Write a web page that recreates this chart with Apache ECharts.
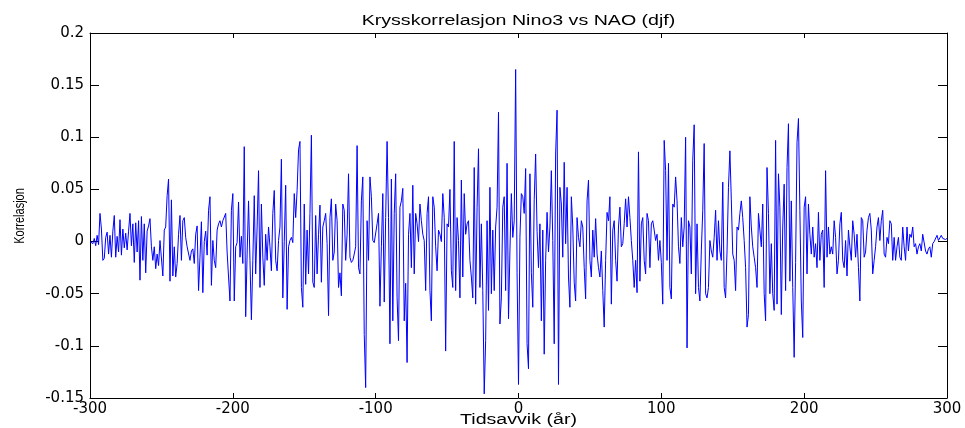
<!DOCTYPE html>
<html>
<head>
<meta charset="utf-8">
<script src="https://cdn.jsdelivr.net/npm/echarts@6/dist/echarts.min.js"></script>
<style>
html,body{margin:0;padding:0;background:#fff;}
#chart{width:965px;height:428px;}
</style>
</head>
<body>
<div id="chart"></div>
<script>
// Lags run from -300 to 300 in steps of 1 (years)
const lagStart = -300;
const lagStep = 1;

// Cross-correlation values, split in segments of lag
const corrA = [ // -300 .. -226
 0.000, 0.001,-0.002, 0.003,-0.004, 0.006,-0.003, 0.027, 0.012,-0.018,
-0.016, 0.004, 0.009,-0.012, 0.006,-0.015, 0.010, 0.025,-0.015, 0.005,
-0.010, 0.021,-0.013, 0.012,-0.006, 0.008,-0.008, 0.010, 0.027,-0.004,
 0.017,-0.020, 0.018,-0.010, 0.020,-0.037, 0.024,-0.018, 0.017,-0.030,
 0.010, 0.015, 0.022,-0.005,-0.018,-0.005,-0.026,-0.012,-0.023, 0.001,
 0.002,-0.033, 0.011, 0.014, 0.044, 0.060,-0.038, 0.040,-0.033,-0.005,
-0.034,-0.021, 0.007, 0.025,-0.018, 0.020, 0.023, 0.004,-0.005,-0.006,
-0.018,-0.009,-0.007,-0.021, 0.007
];
const corrB = [ // -225 .. -152
 0.015,-0.047,-0.015, 0.019,-0.049, 0.000, 0.010,-0.013, 0.030, 0.043,
-0.042, 0.001,-0.018,-0.025, 0.011, 0.017, 0.020, 0.014, 0.020, 0.019,
 0.027,-0.010,-0.034,-0.057, 0.030, 0.046,-0.057,-0.005,-0.001, 0.038,
-0.015, 0.005,-0.021, 0.091,-0.072,-0.012, 0.039,-0.018,-0.075,-0.018,
 0.044,-0.031, 0.014, 0.068,-0.044, 0.036,-0.015,-0.042, 0.007,-0.018,
 0.014,-0.005,-0.028, 0.027, 0.049,-0.018,-0.028, 0.001, 0.014, 0.079,
-0.054, 0.000, 0.054,-0.065,-0.005, 0.001, 0.004,-0.001, 0.046, 0.023,
 0.049, 0.088, 0.096,-0.044
];
const corrC = [ // -151 .. -76
-0.063, 0.036,-0.041, 0.011,-0.031, 0.027, 0.102,-0.039,-0.044, 0.025,
-0.031, 0.007, 0.035,-0.039, 0.014, 0.020, 0.027,-0.002,-0.071, 0.023,
 0.041,-0.018,-0.010, 0.036, 0.020,-0.044,-0.030,-0.052, 0.036, 0.030,
-0.018, 0.007, 0.065,-0.015,-0.020,-0.018,-0.012,-0.005, 0.092,-0.025,
-0.031, 0.039, 0.062,-0.089,-0.140, 0.020,-0.018, 0.062, 0.043, 0.001,
-0.001,-0.002, 0.017, 0.027,-0.062,-0.005, 0.046,-0.058, 0.023, 0.096,
 0.023,-0.098, 0.060,-0.076, 0.027, 0.065,-0.054,-0.095, 0.033, 0.039,
 0.051,-0.076,-0.040,-0.116, 0.007, 0.027
];
const corrD = [ // -75 .. -1
-0.025, 0.054,-0.031, 0.027, 0.017, 0.000, 0.036, 0.020, 0.007, 0.001,
-0.047, 0.027, 0.043,-0.047,-0.076, 0.043, 0.033,-0.005,-0.028, 0.011,
 0.007, 0.000, 0.046, 0.023,-0.105, 0.017, 0.014, 0.050,-0.028,-0.044,
 0.096,-0.047, 0.023, 0.001,-0.054, 0.059,-0.034, 0.046, 0.007, 0.017,
 0.020,-0.018,-0.034,-0.054, 0.071,-0.060, 0.033, 0.089,-0.044, 0.017,
-0.047,-0.146,-0.095, 0.020,-0.066, 0.052,-0.050, 0.011,-0.047, 0.014,
 0.033, 0.124,-0.079,-0.054, 0.033, 0.043,-0.047, 0.075,-0.074,-0.009,
 0.046, 0.004, 0.020, 0.165,-0.030
];
const corrE = [ // 0 .. 73
-0.137, 0.004, 0.046, 0.043, 0.027, 0.070,-0.098,-0.122, 0.065,-0.030,
-0.063, 0.040, 0.084, 0.010,-0.025, 0.017,-0.076, 0.011,-0.108,-0.018,
 0.028,-0.010, 0.014, 0.068, 0.001,-0.098, 0.084, 0.126,-0.137, 0.052,
 0.036,-0.015, 0.076,-0.002, 0.052,-0.034,-0.063, 0.043, 0.014,-0.039,
-0.057, 0.023, 0.004,-0.005, 0.020, 0.014,-0.025,-0.055, 0.039, 0.059,
-0.018,-0.034, 0.011,-0.015, 0.022,-0.012,-0.025,-0.034,-0.009,-0.047,
-0.082,-0.018, 0.028, 0.020, 0.043,-0.060, 0.011, 0.020,-0.018,-0.038,
 0.014, 0.033,-0.005,-0.002
];
const corrF = [ // 74 .. 148
 0.017, 0.041, 0.014, 0.043, 0.023, 0.001,-0.018,-0.044,-0.018,-0.049,
 0.086,-0.038, 0.017, 0.023,-0.018,-0.031, 0.027, 0.020,-0.025, 0.017,
 0.020, 0.011, 0.001, 0.007,-0.018, 0.001,-0.020,-0.060, 0.097, 0.068,
-0.018, 0.075,-0.044,-0.055, 0.036, 0.033, 0.062, 0.039,-0.005,-0.021,
 0.023,-0.005, 0.014, 0.100,-0.102, 0.020, 0.014,-0.031, 0.078, 0.112,
-0.050, 0.017,-0.044,-0.057,-0.009, 0.030, 0.094,-0.050,-0.054,-0.044,
 0.001,-0.009,-0.015, 0.004, 0.030,-0.018, 0.020,-0.009,-0.018, 0.057,
-0.044,-0.054,-0.009, 0.052, 0.087
];
const corrG = [ // 149 .. 223
 0.040,-0.012,-0.018,-0.047, 0.014, 0.011, 0.027, 0.039, 0.023, 0.001,
-0.025,-0.082,-0.070, 0.043, 0.014,-0.005,-0.015,-0.025,-0.044, 0.027,
 0.011,-0.005, 0.036,-0.050,-0.076, 0.071, 0.027,-0.050,-0.002,-0.050,
-0.066, 0.097,-0.060, 0.065, 0.033,-0.070, 0.014, 0.055,-0.047, 0.071,
 0.113,-0.038, 0.039,-0.044,-0.111,-0.020, 0.095, 0.118, 0.030,-0.057,
-0.092, 0.033, 0.043,-0.031, 0.036, 0.007,-0.012, 0.014,-0.015,-0.002,
-0.025, 0.028,-0.018, 0.007, 0.011,-0.044, 0.068,-0.015, 0.014,-0.012,
-0.005,-0.012, 0.020, 0.004,-0.031
];
const corrH = [ // 224 .. 300
-0.018, 0.017, 0.028,-0.018,-0.025, 0.001,-0.033, 0.011,-0.005,-0.018,
 0.020, 0.007,-0.015, 0.007,-0.025,-0.057, 0.023, 0.020,-0.015,-0.010,
 0.011, 0.023, 0.027, 0.011,-0.031,-0.018,-0.005, 0.014, 0.023, 0.001,
 0.020, 0.030,-0.012,-0.015, 0.004,-0.002, 0.020, 0.017,-0.018, 0.004,
-0.018,-0.005, 0.004,-0.015,-0.018, 0.014,-0.005,-0.018, 0.014,-0.009,
 0.007, 0.004, 0.014,-0.005,-0.002,-0.012,-0.005,-0.002,-0.009, 0.007,
 0.007,-0.009,-0.012,-0.007,-0.005,-0.015,-0.002, 0.000, 0.001, 0.006,
 0.001, 0.001, 0.006, 0.003, 0.004, 0.002, 0.003
];

const xTicks = [-300, -200, -100, 0, 100, 200, 300];
const yTicks = [-0.15, -0.1, -0.05, 0, 0.05, 0.1, 0.15, 0.2];
const titleText = 'Krysskorrelasjon Nino3 vs NAO (djf)';
const xName = 'Tidsavvik (år)';
const yName = 'Korrelasjon';

const corr = [].concat(corrA, corrB, corrC, corrD, corrE, corrF, corrG, corrH);
const seriesData = corr.map((v, i) => [lagStart + i * lagStep, v]);

const chart = echarts.init(document.getElementById('chart'), null, {renderer: 'canvas'});
const labelFont = '"DejaVu Sans", "Liberation Sans", sans-serif';
const textFont = '"Liberation Sans", Arial, sans-serif';
const axisColor = '#000000';

const baseX = {
  type: 'value', min: xTicks[0], max: xTicks[xTicks.length - 1], interval: 100,
  splitLine: {show: false},
  axisLine: {show: true, onZero: false, lineStyle: {color: axisColor, width: 1}},
  axisTick: {show: true, inside: true, length: 5, lineStyle: {color: axisColor}}
};
const baseY = {
  type: 'value', min: yTicks[0], max: yTicks[yTicks.length - 1], interval: 0.05,
  splitLine: {show: false},
  axisLine: {show: true, onZero: false, lineStyle: {color: axisColor, width: 1}},
  axisTick: {show: true, inside: true, length: 9, lineStyle: {color: axisColor}}
};

chart.setOption({
  animation: false,
  backgroundColor: '#ffffff',
  grid: {left: 90, right: 18, top: 33, bottom: 30, containLabel: false},
  xAxis: [
    Object.assign({}, baseX, {
      position: 'bottom',
      axisLabel: {show: true, margin: 4, color: '#000', fontSize: 15, fontFamily: labelFont,
        formatter: v => String(v)}
    }),
    Object.assign({}, baseX, {position: 'top', axisLabel: {show: false}})
  ],
  yAxis: [
    Object.assign({}, baseY, {
      position: 'left',
      axisLabel: {show: true, margin: 6, color: '#000', fontSize: 15, fontFamily: labelFont,
        formatter: v => String(parseFloat(v.toFixed(2)))}
    }),
    Object.assign({}, baseY, {position: 'right', axisLabel: {show: false}})
  ],
  graphic: [
    {type: 'text', x: 518.5, y: 21, scaleX: 1.4, silent: true,
     style: {text: titleText, fill: '#000', font: '14px ' + textFont,
       textAlign: 'center', textVerticalAlign: 'middle'}},
    {type: 'text', x: 518.5, y: 420, scaleX: 1.4, silent: true,
     style: {text: xName, fill: '#000', font: '14px ' + textFont,
       textAlign: 'center', textVerticalAlign: 'middle'}},
    {type: 'text', x: 20, y: 216, rotation: Math.PI / 2, scaleY: 1.4, silent: true,
     style: {text: yName, fill: '#000', font: '11px ' + textFont,
       textAlign: 'center', textVerticalAlign: 'middle'}}
  ],
  series: [{
    type: 'line',
    data: seriesData,
    xAxisIndex: 0, yAxisIndex: 0,
    showSymbol: false,
    symbol: 'none',
    sampling: null,
    lineStyle: {color: '#0000ff', width: 1},
    itemStyle: {color: '#0000ff'},
    clip: true
  }]
});
</script>
</body>
</html>
